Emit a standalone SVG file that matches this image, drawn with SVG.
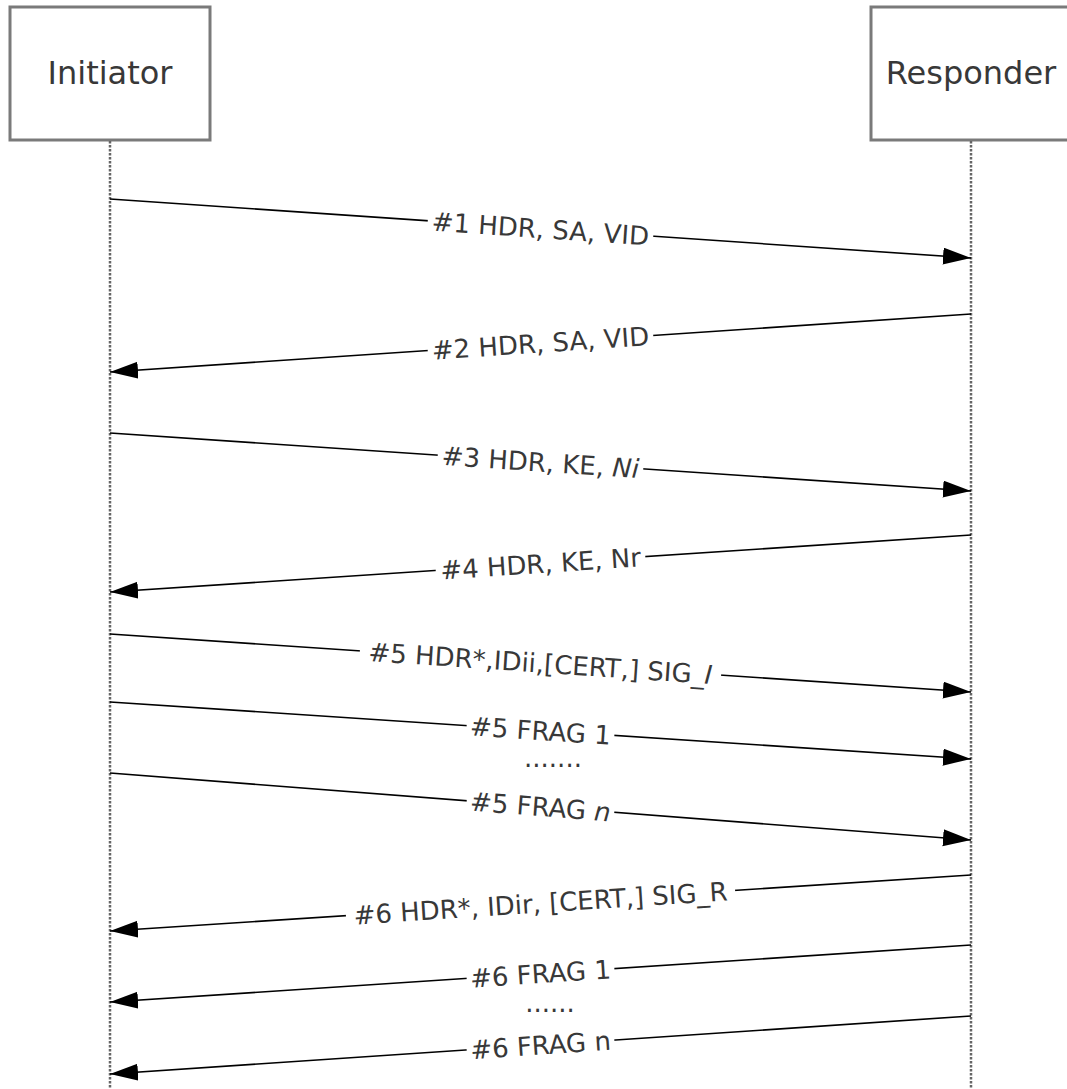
<svg xmlns="http://www.w3.org/2000/svg" width="1067" height="1089" viewBox="0 0 1067 1089">
<style>
.box{fill:#fff;stroke:#7a7a7a;stroke-width:3}
.life{stroke:#666;stroke-width:2.5;stroke-dasharray:2.5 1.5;fill:none}
.name{font-family:"DejaVu Sans",Verdana,sans-serif;font-size:32px;fill:#383838;text-anchor:middle}
.msg{stroke:#000;stroke-width:1.6;fill:none;marker-end:url(#ah)}
.lbl{font-family:"DejaVu Sans",Verdana,sans-serif;font-size:26px;fill:#383838;text-anchor:middle}
.bg{fill:#fff}
</style>
<defs>
<marker id="ah" markerUnits="userSpaceOnUse" markerWidth="30" markerHeight="18" refX="28" refY="8.5" orient="auto">
<path d="M0,0 L28,8.5 L0,17 Z" fill="#000"/>
</marker>
</defs>
<rect width="1067" height="1089" fill="#fff"/>
<g id="initiator">
<rect class="box" x="10" y="7" width="200" height="133"/>
<text class="name" x="110" y="84">Initiator</text>
<line class="life" x1="110" y1="141" x2="110" y2="1089"/>
</g>
<g id="responder">
<rect class="box" x="871" y="7" width="200" height="133"/>
<text class="name" x="971" y="84">Responder</text>
<line class="life" x1="971" y1="141" x2="971" y2="1089"/>
</g>
<g id="connectors">
<line class="msg" x1="110" y1="199" x2="971" y2="258"/>
<g transform="translate(540.5,228.5) rotate(3.92)"><rect class="bg" x="-113" y="-13" width="226" height="26"/><text class="lbl" y="9.5">#1 HDR, SA, VID</text></g>

<line class="msg" x1="971" y1="314" x2="110" y2="372"/>
<g transform="translate(540.5,343) rotate(-3.85)"><rect class="bg" x="-113" y="-13" width="226" height="26"/><text class="lbl" y="9.5">#2 HDR, SA, VID</text></g>

<line class="msg" x1="110" y1="433" x2="971" y2="491"/>
<g transform="translate(540.5,462) rotate(3.85)"><rect class="bg" x="-103" y="-13" width="206" height="26"/><text class="lbl" y="9.5">#3 HDR, KE, <tspan font-style="italic">Ni</tspan></text></g>

<line class="msg" x1="971" y1="535" x2="110" y2="592"/>
<g transform="translate(540.5,563.5) rotate(-3.79)"><rect class="bg" x="-105" y="-13" width="210" height="26"/><text class="lbl" y="9.5">#4 HDR, KE, Nr</text></g>

<line class="msg" x1="110" y1="634" x2="971" y2="692"/>
<g transform="translate(540.5,663) rotate(3.85)"><rect class="bg" x="-181" y="-13" width="362" height="26"/><text class="lbl" y="9.5">#5 HDR*,IDii,[CERT,] SIG_<tspan font-style="italic">I</tspan></text></g>

<line class="msg" x1="110" y1="702" x2="971" y2="759"/>
<g transform="translate(540.5,730.5) rotate(3.79)"><rect class="bg" x="-74" y="-13" width="148" height="26"/><text class="lbl" y="9.5">#5 FRAG 1</text></g>

<text class="lbl" x="553" y="767">.......</text>

<line class="msg" x1="110" y1="773" x2="971" y2="840"/>
<g transform="translate(540.5,806.5) rotate(4.45)"><rect class="bg" x="-74" y="-13" width="148" height="26"/><text class="lbl" y="9.5">#5 FRAG <tspan font-style="italic">n</tspan></text></g>

<line class="msg" x1="971" y1="875" x2="110" y2="931"/>
<g transform="translate(540.5,903) rotate(-3.72)"><rect class="bg" x="-195" y="-13" width="390" height="26"/><text class="lbl" y="9.5">#6 HDR*, IDir, [CERT,] SIG_R</text></g>

<line class="msg" x1="971" y1="945" x2="110" y2="1002"/>
<g transform="translate(540.5,973.5) rotate(-3.79)"><rect class="bg" x="-74" y="-13" width="148" height="26"/><text class="lbl" y="9.5">#6 FRAG 1</text></g>

<text class="lbl" x="550" y="1012">......</text>

<line class="msg" x1="971" y1="1016" x2="110" y2="1074"/>
<g transform="translate(540.5,1045) rotate(-3.85)"><rect class="bg" x="-74" y="-13" width="148" height="26"/><text class="lbl" y="9.5">#6 FRAG n</text></g>
</g>
</svg>
